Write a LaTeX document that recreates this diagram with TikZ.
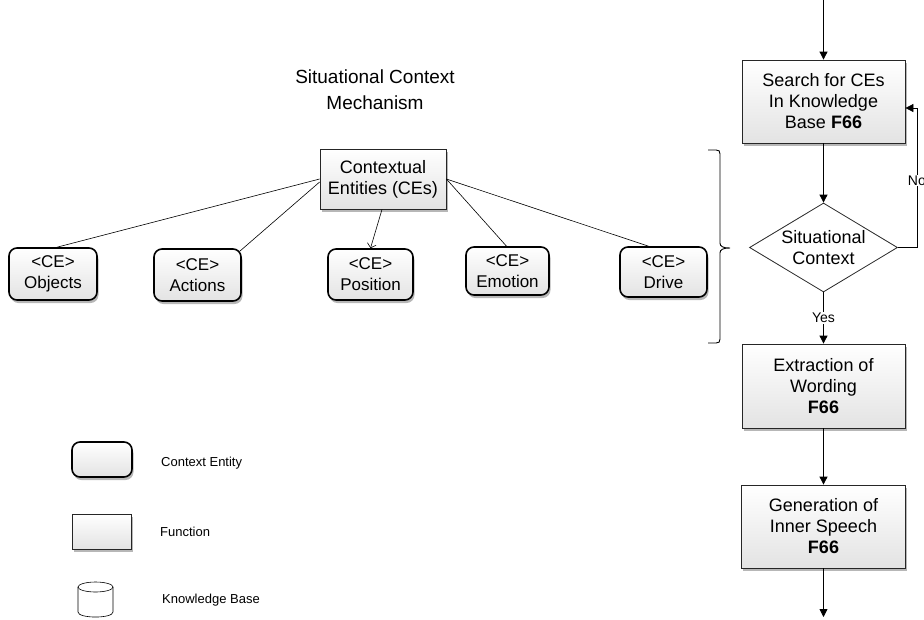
\documentclass[tikz,border=0pt]{standalone}
\usepackage{fontspec}
\setmainfont{Liberation Sans}
\usetikzlibrary{arrows.meta,shapes.geometric,shadows,calc}
\begin{document}
\begin{tikzpicture}[x=1pt,y=1pt,
  boxshade/.style={top color=white,bottom color=gray!22},
  softshadow/.style={drop shadow={shadow xshift=1.5pt,shadow yshift=-3pt,fill=gray!80,opacity=0.7}},
  fnbox/.style={draw=black!85,line width=0.8pt,rectangle,boxshade,softshadow,
    align=center,inner sep=0pt,font=\fontsize{18}{21}\selectfont},
  cebox/.style={draw=black,line width=1.6pt,rectangle,rounded corners=8pt,boxshade,softshadow,
    align=center,inner sep=0pt,font=\fontsize{17}{21}\selectfont},
  decision/.style={draw=black!85,line width=0.8pt,diamond,aspect=1.66,fill=white,
    inner sep=0pt,minimum width=148pt,minimum height=89pt,
    align=center,font=\fontsize{18}{21}\selectfont},
  flow/.style={line width=0.8pt,-{Triangle[length=8pt,width=8pt]}},
  link/.style={line width=0.6pt},
  lbl/.style={fill=white,inner sep=1pt,font=\fontsize{14}{16}\selectfont},
  legendtxt/.style={anchor=west,inner sep=0pt,font=\fontsize{13}{15}\selectfont}]
\useasboundingbox (0,0) rectangle (924,-619);

% title
\node[align=center,font=\fontsize{19}{26}\selectfont] (title) at (375,-90)
  {Situational Context\\Mechanism};

% contextual entities
\node[fnbox,minimum width=126pt,minimum height=60pt] (ce) at (383,-179)
  {Contextual\\Entities (CEs)};
\node[cebox,minimum width=88pt,minimum height=52pt] (obj) at (53,-274) {<CE>\\Objects};
\node[cebox,minimum width=87pt,minimum height=52pt] (act) at (197.5,-275) {<CE>\\Actions};
\node[cebox,minimum width=85pt,minimum height=51pt] (pos) at (370.5,-274.5) {<CE>\\Position};
\node[cebox,minimum width=83pt,minimum height=48pt] (emo) at (507.5,-271) {<CE>\\Emotion};
\node[cebox,minimum width=87pt,minimum height=50pt] (drv) at (663.5,-272) {<CE>\\Drive};

\draw[link] (ce.west) -- ([xshift=4pt]obj.north);
\draw[link] ([yshift=-3pt]ce.west) -- ([xshift=-2pt,yshift=-3pt]act.north east);
\draw[link,-{Straight Barb[length=4pt,width=9pt]}] ([xshift=-1pt]ce.south) -- (pos.north);
\draw[link] (ce.east) -- ([xshift=-1pt]emo.north);
\draw[link] (ce.east) -- ([xshift=-15pt]drv.north);

% brace
\draw[line width=0.9pt] (708,-150) -- (716,-150) .. controls (719,-150) and (720,-151) .. (720,-154)
  -- (720,-243) .. controls (720,-246.5) and (723,-248) .. (730,-248)
  .. controls (723,-248) and (720,-249.5) .. (720,-253)
  -- (720,-339) .. controls (720,-342) and (719,-343) .. (716,-343) -- (708,-343);

% process flow
\coordinate (in) at (823.5,0);
\coordinate (out) at (823.5,-617);
\node[fnbox,minimum width=163pt,minimum height=83pt] (search) at (823.5,-101.5)
  {Search for CEs\\In Knowledge\\Base \textbf{F66}};
\node[decision] (sit) at (823.5,-247.5) {Situational\\Context};
\node[fnbox,minimum width=163pt,minimum height=84pt] (extr) at (823.5,-386)
  {Extraction of\\Wording\\\textbf{F66}};
\node[fnbox,minimum width=164pt,minimum height=83pt] (gen) at (823.5,-526.5)
  {Generation of\\Inner Speech\\\textbf{F66}};

\draw[flow] (in) -- (search.north);
\draw[flow] (search.south) -- (sit.north);
\draw[flow] (sit.south) -- node[lbl,pos=0.5] {Yes} (extr.north);
\draw[flow] (extr.south) -- (gen.north);
\draw[flow] (gen.south) -- (out);
\draw[flow] (sit.east) -- ++(19,0) |- node[lbl,pos=0.24] {No} ([yshift=-6.5pt]search.east);

% legend
\node[cebox,minimum width=60pt,minimum height=35pt] (lgce) at (102,-459.5) {};
\node[legendtxt] (lgcetxt) at (161,-463) {Context Entity};
\node[fnbox,minimum width=59pt,minimum height=35pt] (lgfn) at (101.5,-531.5) {};
\node[legendtxt] (lgfntxt) at (160,-532) {Function};
\draw[line width=0.6pt] (95.5,-587) ellipse [x radius=17.5,y radius=5];
\draw[line width=0.6pt] (78,-587) -- (78,-612) .. controls (78,-618.7) and (113,-618.7) .. (113,-612) -- (113,-587);
\node[legendtxt] (lgkbtxt) at (162,-600) {Knowledge Base};
\end{tikzpicture}
\end{document}
